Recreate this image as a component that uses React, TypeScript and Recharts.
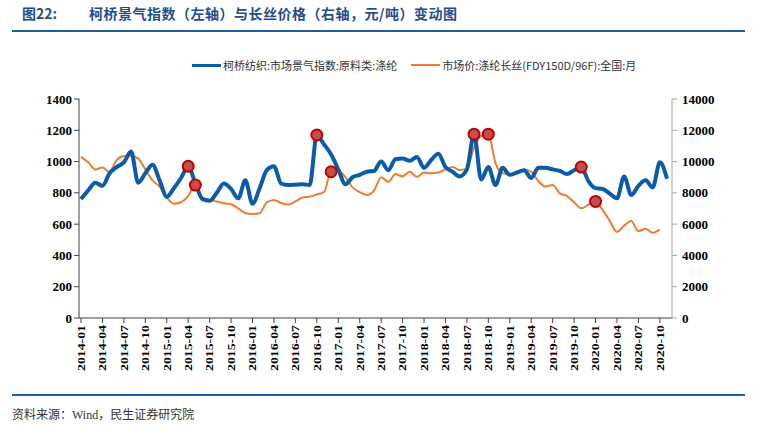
import { LineChart, Line, XAxis, YAxis } from "recharts";

// 2014-01 .. 2020-11
const months: string[] = [];
for (let y = 2014; y <= 2020; y++) {
  for (let m = 1; m <= 12; m++) {
    if (y === 2020 && m > 11) break;
    months.push(`${y}-${String(m).padStart(2, "0")}`);
  }
}

// 柯桥纺织:市场景气指数:原料类:涤纶 (left axis)
const keqiaoIndex = [
  760, 815, 865, 845, 925, 965, 995, 1065, 865, 925, 980, 880,
  775, 830, 895, 970, 860, 760, 750, 800, 860, 825, 765, 880,
  730, 830, 945, 970, 860, 850, 852, 855, 850, 1170, 1110, 1045,
  950, 855, 900, 915, 935, 940, 1000, 945, 1015, 1020, 1005, 1030,
  960, 1010, 1050, 965, 935, 905, 950, 1175, 885, 965, 850, 960,
  915, 930, 945, 895, 960, 960, 950, 940, 920, 945, 965, 875,
  830, 825, 795, 765, 905, 786, 845, 880, 835, 995, 890,
];

// 市场价:涤纶长丝(FDY150D/96F):全国:月 (right axis)
const fdyPrice = [
  10300, 9950, 9500, 9620, 9350, 10100, 10350, 10380, 10200, 9500, 8800, 8400,
  7700, 7300, 7400, 7800, 8500, 7700, 7540, 7450, 7330, 7270, 7010, 6700,
  6650, 6690, 7400, 7550, 7350, 7250, 7450, 7700, 7760, 7900, 8050, 9350,
  9400, 9000, 8350, 8050, 7860, 8150, 9000, 8700, 9200, 9050, 9350, 9030,
  9300, 9250, 9300, 9500, 9650, 9460, 9570, 10900, 11650, 11750, 9900, 9250,
  9200, 9300, 9500, 9350, 8750, 8400, 8500, 7970, 7800, 7400, 7010, 7250,
  7450, 6900, 6200, 5500, 5900, 6200, 5550, 5700, 5450, 5650,
];

// highlighted turning points (index into months)
const indexMarks = [15, 33, 55, 70];
const priceMarks = [16, 35, 57, 72];

const leftTicks = [0, 200, 400, 600, 800, 1000, 1200, 1400];
const rightTicks = [0, 2000, 4000, 6000, 8000, 10000, 12000, 14000];

const data = months.map((m, i) => ({
  month: m,
  index: keqiaoIndex[i],
  price: fdyPrice[i],
}));

const BLUE = "#0b5ca8";
const ORANGE = "#ed7d31";
const TITLE_BLUE = "#1f4e8c";

const numTick = { fontFamily: "Liberation Serif", fontWeight: 700, fontSize: 13, fill: "#000" };

const MonthTick = (props: any) => {
  const { x, y, payload } = props;
  return (
    <g transform={`translate(${x},${y})`}>
      <text
        transform="rotate(-90)"
        textAnchor="end"
        dy="0.35em"
        fontFamily="Liberation Serif"
        fontWeight={700}
        fontSize={11}
        fill="#000"
        textLength={46}
        lengthAdjust="spacingAndGlyphs"
      >
        {payload.value}
      </text>
    </g>
  );
};

const markDot = (marks: number[], prefix: string) => (props: any) => {
  const { cx, cy, index } = props;
  if (!marks.includes(index) || cx == null || cy == null) {
    return <g key={`${prefix}${index}`} />;
  }
  return (
    <circle
      key={`${prefix}${index}`}
      cx={cx}
      cy={cy}
      r={5.5}
      fill="#c0504d"
      stroke="#c00000"
      strokeWidth={2}
    />
  );
};

export default function App() {
  return (
    <div style={{ position: "relative", width: 766, height: 430, background: "#fff", fontFamily: "Noto Sans CJK SC" }}>
      <style>{"body{margin:0}"}</style>

      <div style={{ position: "absolute", left: 22, top: 3, fontSize: 14, fontWeight: 700, color: TITLE_BLUE }}>
        图22:
      </div>
      <div style={{ position: "absolute", left: 89, top: 3, fontSize: 14, fontWeight: 700, color: TITLE_BLUE, letterSpacing: 0.5, whiteSpace: "nowrap" }}>
        柯桥景气指数（左轴）与长丝价格（右轴，元/吨）变动图
      </div>
      <div style={{ position: "absolute", left: 12, top: 30, width: 733, height: 2, background: "#1f5fa0" }} />

      <div style={{ position: "absolute", left: 192, top: 57, display: "flex", alignItems: "center", fontSize: 11, color: "#333", whiteSpace: "nowrap" }}>
        <span style={{ display: "inline-block", width: 29, height: 3, background: BLUE, marginRight: 2 }} />
        <span>柯桥纺织:市场景气指数:原料类:涤纶</span>
        <span style={{ display: "inline-block", width: 29, height: 2, background: ORANGE, marginLeft: 14, marginRight: 2 }} />
        <span>市场价:涤纶长丝(FDY150D/96F):全国:月</span>
      </div>

      <div style={{ position: "absolute", left: 0, top: 0 }}>
        <LineChart
          width={766}
          height={430}
          data={data}
          margin={{ top: 99, right: 34, bottom: 52, left: 19 }}
        >
          <XAxis
            dataKey="month"
            interval={2}
            padding={{ left: 2, right: 5 }}
            tick={<MonthTick />}
            tickSize={5}
            tickMargin={2}
            height={60}
            stroke="#404040"
          />
          <YAxis
            yAxisId="left"
            domain={[0, 1400]}
            ticks={leftTicks}
            width={60}
            tick={numTick}
            tickSize={5}
            stroke="#404040"
            interval={0}
          />
          <YAxis
            yAxisId="right"
            orientation="right"
            domain={[0, 14000]}
            ticks={rightTicks}
            width={60}
            tick={numTick}
            tickSize={5}
            tickMargin={5}
            stroke="#a6a6a6"
            interval={0}
          />
          <Line
            yAxisId="right"
            type="monotone"
            dataKey="price"
            stroke={ORANGE}
            strokeWidth={2}
            dot={markDot(priceMarks, "p")}
            activeDot={false}
            isAnimationActive={false}
          />
          <Line
            yAxisId="left"
            type="monotone"
            dataKey="index"
            stroke={BLUE}
            strokeWidth={4}
            dot={markDot(indexMarks, "k")}
            activeDot={false}
            isAnimationActive={false}
          />
        </LineChart>
      </div>

      <div style={{ position: "absolute", left: 12, top: 394, width: 733, height: 2, background: "#1f5fa0" }} />
      <div style={{ position: "absolute", left: 12, top: 405, fontSize: 12, color: "#333", whiteSpace: "nowrap", fontFamily: "Liberation Serif, Noto Sans CJK SC" }}>
        资料来源：Wind，民生证券研究院
      </div>
    </div>
  );
}
